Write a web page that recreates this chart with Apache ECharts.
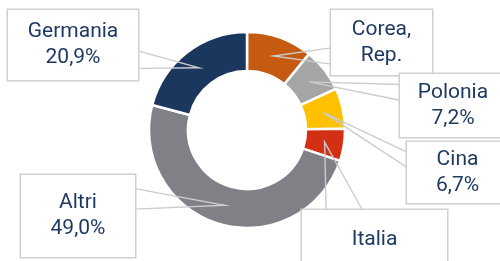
<!DOCTYPE html>
<html>
<head>
<meta charset="utf-8">
<script src="https://cdn.jsdelivr.net/npm/echarts@6/dist/echarts.min.js"></script>
<style>
  html, body { margin: 0; padding: 0; background: #fff; }
  #chart { width: 500px; height: 261px; }
</style>
</head>
<body>
<div id="chart"></div>
<script>
'use strict';

// clockwise from 12 o'clock
const paesi = ['Corea, Rep.', 'Polonia', 'Cina', 'Italia', 'Altri', 'Germania'];
const quote = [10.9, 7.2, 6.7, 5.3, 49.0, 20.9];
// labels that show only the name (percentage cut off in the original)
const soloNome = ['Corea, Rep.', 'Italia'];

const colori = ['#c55a11', '#a5a5a5', '#ffc000', '#d32f13', '#808186', '#1c375e'];
// callout boxes: left, top, width, height
const boxes = [
  [331, 10, 101, 65],
  [400, 74, 106, 63],
  [407, 142, 101, 61],
  [302, 210, 145, 60],
  [21, 175, 114, 82],
  [8, 10, 130, 70]
];
const CX = 247, CY = 130, R0 = 59, R1 = 98;
const RMID = (R0 + R1) / 2;
const LH = 26;

// excel style wedge callout: base is a quarter of the side
function wedge(b, tip) {
  const L = b[0], T = b[1], W = b[2], H = b[3];
  const dx = tip[0] - (L + W / 2), dy = tip[1] - (T + H / 2);
  const dq = dx * H / W;
  if (Math.abs(dy) > Math.abs(dq)) {
    const y = dy > 0 ? T + H : T;
    const g1 = dx > 0 ? 7 : 2, g2 = dx > 0 ? 10 : 5;
    return [[L + W * g1 / 12, y], tip, [L + W * g2 / 12, y]];
  }
  const x = dx > 0 ? L + W : L;
  const g1 = dy > 0 ? 7 : 2, g2 = dy > 0 ? 10 : 5;
  return [[x, T + H * g1 / 12], tip, [x, T + H * g2 / 12]];
}

function lineCount(name) {
  if (name === 'Italia') return 1;
  return 2;
}

const base = {
  type: 'pie',
  center: [CX, CY],
  radius: [R0, R1],
  startAngle: 90,
  clockwise: true,
  avoidLabelOverlap: false
};

const chart = echarts.init(document.getElementById('chart'));
const option = {
  animation: false,
  series: [
    // coloured ring
    Object.assign({}, base, {
      z: 2,
      itemStyle: { borderColor: '#ffffff', borderWidth: 2.5 },
      label: { show: false },
      labelLine: { show: false },
      data: paesi.map(function (n, i) {
        return { name: n, value: quote[i], itemStyle: { color: colori[i] } };
      })
    }),
    // callouts on top of the ring
    Object.assign({}, base, {
      z: 4,
      silent: true,
      itemStyle: { color: 'rgba(0,0,0,0)' },
      label: {
        show: true,
        color: '#1f3a62',
        fontFamily: 'Roboto',
        fontSize: 21,
        lineHeight: LH,
        align: 'center',
        backgroundColor: '#ffffff',
        borderColor: '#d0d0d0',
        borderWidth: 1.5,
        formatter: function (p) {
          if (soloNome.indexOf(p.name) >= 0) {
            return p.name.replace(', ', ',\n');
          }
          return p.name + '\n' + p.value.toFixed(1).replace('.', ',') + '%';
        }
      },
      labelLine: {
        show: true,
        smooth: false,
        lineStyle: { color: '#cccccc', width: 1.4 }
      },
      labelLayout: function (params) {
        const b = boxes[params.dataIndex];
        const p = params.labelLinePoints[0];
        const a = Math.atan2(p[1] - CY, p[0] - CX);
        const tip = [CX + RMID * Math.cos(a), CY + RMID * Math.sin(a)];
        return {
          x: b[0] + b[2] / 2,
          y: b[1] + b[3] / 2,
          align: 'center',
          verticalAlign: 'middle',
          labelLinePoints: wedge(b, tip)
        };
      },
      data: paesi.map(function (n, i) {
        const pad = (boxes[i][3] - lineCount(n) * LH) / 2;
        return {
          name: n,
          value: quote[i],
          label: {
            width: boxes[i][2],
            padding: [pad + 1, 0, pad - 1, 0]
          }
        };
      })
    })
  ]
};
chart.setOption(option);
</script>
</body>
</html>
